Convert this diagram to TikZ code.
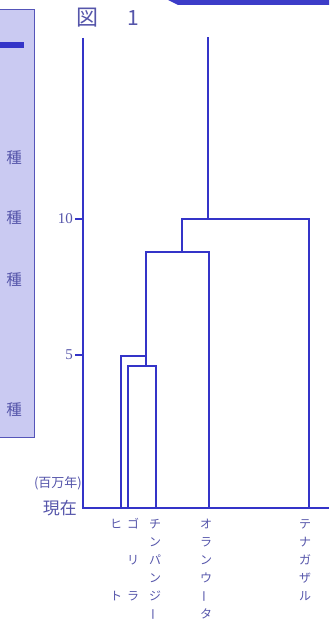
\documentclass[tikz,border=0pt]{standalone}
\usepackage{fontspec}
\newfontfamily\jp{Noto Sans CJK JP}
\setmainfont{Liberation Serif}
\definecolor{treeblue}{RGB}{52,52,200}
\definecolor{txtblue}{RGB}{85,85,170}
\definecolor{panelfill}{RGB}{202,202,242}
\definecolor{panelline}{RGB}{85,85,185}
\definecolor{bandblue}{RGB}{60,60,200}
\tikzset{
  treeline/.style={draw=treeblue, line width=2.2pt, line cap=rect},
  axisline/.style={draw=treeblue, line width=2.2pt},
  kana/.style={font=\jp\fontsize{12}{12}\selectfont, text=txtblue, inner sep=0pt, anchor=center},
  kanabar/.style={kana, rotate=90},
  numlab/.style={font=\fontsize{15}{16}\selectfont, text=txtblue, anchor=east, inner sep=0pt},
  shu/.style={font=\jp\fontsize{15.5}{16}\selectfont, text=txtblue, inner sep=0pt}
}
\begin{document}
\begin{tikzpicture}[x=1pt,y=-1pt]
\useasboundingbox (0,0) rectangle (329,620);
% left panel
\fill[panelfill] (-2,10) rectangle (34,437);
\draw[panelline, line width=1pt] (-2,10) -- (34,10) -- (34,437) -- (-2,437);
\fill[treeblue] (0,42) rectangle (24,48);
\node[shu] (s1) at (14,158) {種};
\node[shu] (s2) at (14,218) {種};
\node[shu] (s3) at (14,280) {種};
\node[shu] (s4) at (14,410) {種};
% top band
\fill[bandblue] (168,0) -- (329,0) -- (329,5) -- (178,5) -- cycle;
% title
\node[font=\jp\fontsize{22}{22}\selectfont, text=txtblue, inner sep=0pt] (zu) at (87,18) {図};
\node[font=\jp\fontsize{21}{21}\selectfont, text=txtblue, inner sep=0pt] (one) at (133,18) {1};
% coordinates
\coordinate (atop) at (83,38);
\coordinate (aorig) at (83,508);
\coordinate (aend) at (329,508);
\coordinate (hu) at (121,508);
\coordinate (go) at (128,508);
\coordinate (ch) at (156,508);
\coordinate (or) at (209,508);
\coordinate (gi) at (309,508);
\coordinate (j2) at (146,366);
\coordinate (j1) at (146,356);
\coordinate (j3) at (182,252);
\coordinate (j4) at (208,219);
\coordinate (top) at (208,38);
\coordinate (t10) at (75,219);
\coordinate (t5) at (75,355);
% axes
\draw[axisline] (atop) -- (aorig) -- (aend);
\draw[axisline] (t10) -- (t10 -| aorig);
\draw[axisline] (t5) -- (t5 -| aorig);
\node[numlab] (n10) at (73,219) {10};
\node[numlab] (n5) at (73,355) {5};
\node[font=\jp\fontsize{13}{13}\selectfont, text=txtblue, anchor=east, inner sep=0pt] (myr) at (82,483) {(百万年)};
\node[font=\jp\fontsize{17}{17}\selectfont, text=txtblue, anchor=east, inner sep=0pt] (now) at (77,508) {現在};
% tree
\draw[treeline] (go) |- (ch |- j2) -- (ch);
\draw[treeline] (j1) -- (j2);
\draw[treeline] (hu) |- (j1) -- (j1 |- j3) -| (or);
\draw[treeline] (j3) -- (j3 |- j4) -| (gi);
\draw[treeline] (j4) -- (top);
% labels
\node[kana] (h1) at (116,524) {ヒ};
\node[kana] (h2) at (116,596) {ト};
\node[kana] (g1) at (133,524) {ゴ};
\node[kana] (g2) at (133,560) {リ};
\node[kana] (g3) at (133,596) {ラ};
\node[kana] (c1) at (155,524) {チ};
\node[kana] (c2) at (155,542) {ン};
\node[kana] (c3) at (155,560) {パ};
\node[kana] (c4) at (155,578) {ン};
\node[kana] (c5) at (155,596) {ジ};
\node[kanabar] (c6) at (155,614) {ー};
\node[kana] (o1) at (206,524) {オ};
\node[kana] (o2) at (206,542) {ラ};
\node[kana] (o3) at (206,560) {ン};
\node[kana] (o4) at (206,578) {ウ};
\node[kanabar] (o5) at (206,596) {ー};
\node[kana] (o6) at (206,614) {タ};
\node[kana] (t1) at (305,524) {テ};
\node[kana] (t2) at (305,542) {ナ};
\node[kana] (t3) at (305,560) {ガ};
\node[kana] (t4) at (305,578) {ザ};
\node[kana] (t5n) at (305,596) {ル};
\end{tikzpicture}
\end{document}
